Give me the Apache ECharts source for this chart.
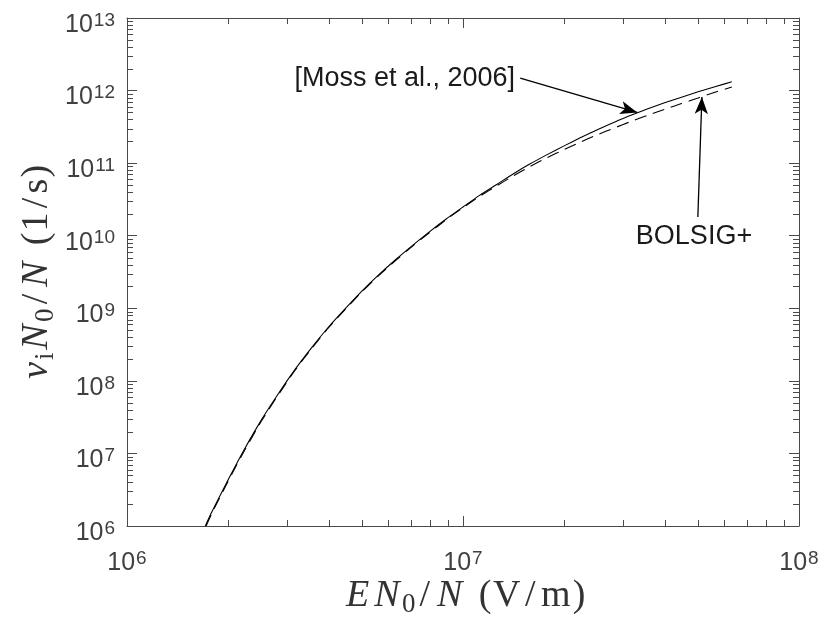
<!DOCTYPE html>
<html><head><meta charset="utf-8">
<script src="https://cdn.jsdelivr.net/npm/echarts@6/dist/echarts.min.js"></script>
<style>html,body{margin:0;padding:0;background:#fff}#c{width:826px;height:623px}</style>
</head><body><div id="c"></div>
<script>
// Reduced electric field EN0/N (V/m) and ionization frequency nu_i N0/N (1/s)
const fieldMoss = [1.71e6, 1.78e6, 2.00e6, 2.24e6, 2.51e6, 2.82e6, 3.16e6, 3.55e6, 3.98e6, 4.47e6, 5.01e6, 5.62e6, 6.31e6, 7.08e6, 7.94e6, 8.91e6,
  1.00e7, 1.12e7, 1.26e7, 1.41e7, 1.58e7, 1.78e7, 2.00e7, 2.24e7, 2.51e7, 2.82e7, 3.16e7, 3.55e7, 3.98e7, 4.47e7, 5.01e7, 5.62e7, 6.31e7];
const rateMoss = [1.00e6, 1.50e6, 4.33e6, 1.16e7, 2.88e7, 6.64e7, 1.43e8, 2.90e8, 5.52e8, 9.98e8, 1.74e9, 2.91e9, 4.70e9, 7.36e9, 1.13e10, 1.70e10,
  2.49e10, 3.60e10, 5.09e10, 7.10e10, 9.70e10, 1.31e11, 1.73e11, 2.25e11, 2.89e11, 3.66e11, 4.56e11, 5.60e11, 6.78e11, 8.11e11, 9.62e11, 1.13e12, 1.32e12];
const fieldBolsig = [1.72e6, 1.78e6, 2.00e6, 2.24e6, 2.51e6, 2.82e6, 3.16e6, 3.55e6, 3.98e6, 4.47e6, 5.01e6, 5.62e6, 6.31e6, 7.08e6, 7.94e6, 8.91e6,
  1.00e7, 1.12e7, 1.26e7, 1.41e7, 1.58e7, 1.78e7, 2.00e7, 2.24e7, 2.51e7, 2.82e7, 3.16e7, 3.55e7, 3.98e7, 4.47e7, 5.01e7, 5.62e7, 6.31e7];
const rateBolsig = [1.00e6, 1.43e6, 4.15e6, 1.11e7, 2.77e7, 6.41e7, 1.39e8, 2.82e8, 5.40e8, 9.75e8, 1.70e9, 2.84e9, 4.59e9, 7.19e9, 1.10e10, 1.66e10,
  2.44e10, 3.48e10, 4.86e10, 6.67e10, 8.95e10, 1.19e11, 1.54e11, 1.96e11, 2.46e11, 3.05e11, 3.75e11, 4.57e11, 5.51e11, 6.62e11, 7.91e11, 9.48e11, 1.12e12];

const xRange = [1e6, 1e8];
const yRange = [1e6, 1e13];
const minorMultipliers = [2, 3, 4, 5, 6, 7, 8, 9];
const xDecades = [1e6, 1e7];
const yDecades = [1e6, 1e7, 1e8, 1e9, 1e10, 1e11, 1e12];

// annotation arrows (data coordinates): [tail, head]
const arrowMoss   = [[1.48e7, 1.49e12], [3.30e7, 5.0e11]];
const arrowBolsig = [[5.0e7, 1.81e10], [5.14e7, 8.15e11]];
const labelMoss = '[Moss et al., 2006]';
const labelBolsig = 'BOLSIG+';

const xMinor = [];
xDecades.forEach(d => minorMultipliers.forEach(m => xMinor.push([m * d, yRange[0]])));
const yMinor = [];
yDecades.forEach(d => minorMultipliers.forEach(m => yMinor.push([xRange[0], m * d])));

const axisColor = '#4a4a4a';
const labelColor = '#404040';
const supRich = {
  b: { fontSize: 25, fontFamily: 'Liberation Sans', color: labelColor, lineHeight: 28 },
  s: { fontSize: 19, fontFamily: 'Liberation Sans', color: labelColor, lineHeight: 10, verticalAlign: 'top', padding: [0, 0, 0, 1] }
};
const powFmt = v => '{b|10}{s|' + Math.round(Math.log10(v)) + '}';

// math-title rich styles (widths mimic Computer Modern advances)
const TF = 'Liberation Serif', TC = '#333';
function tok(w, italic, size) {
  return { fontSize: size || 38, fontFamily: TF, fontStyle: italic ? 'italic' : 'normal', fill: TC, color: TC,
    width: w, align: 'center', lineHeight: size ? 26 : 44, verticalAlign: size ? 'bottom' : 'middle' };
}
const mathRich = {
  E: tok(28, true), N: tok(30.5, true), nu: tok(20, true),
  z: tok(13.3, false, 27), i: tok(8, false, 27),
  sl: tok(19, false), sp: tok(12.7, false), p: tok(14.8, false),
  V: tok(28.5, false), m: tok(31.7, false), one: tok(19, false), s: tok(15, false)
};

function baseAxis(extra) {
  return Object.assign({
    type: 'log', logBase: 10,
    axisLine: { show: true, lineStyle: { color: axisColor, width: 1 } },
    axisTick: { show: true, inside: true, length: 10, lineStyle: { color: axisColor, width: 1 } },
    splitLine: { show: false },
    minorTick: { show: false }
  }, extra);
}

const zip = (a, b) => a.map((v, i) => [v, b[i]]);

function tickItem(p, dx, dy) {
  const x = Math.round(p[0]) + (dx === 0 ? 0.5 : 0);
  const y = Math.round(p[1]) + (dy === 0 ? 0.5 : 0);
  return { type: 'line', shape: { x1: x, y1: y, x2: x + dx, y2: y + dy }, style: { stroke: axisColor, lineWidth: 1 } };
}

const chart = echarts.init(document.getElementById('c'), null, { renderer: 'canvas' });
chart.setOption({
  animation: false,
  backgroundColor: '#fff',
  grid: { left: 127, right: 27, top: 18, bottom: 97 },
  xAxis: [
    baseAxis({ min: xRange[0], max: xRange[1], position: 'bottom',
      axisLabel: { formatter: powFmt, rich: supRich, margin: 23 } }),
    baseAxis({ min: xRange[0], max: xRange[1], position: 'top', axisLabel: { show: false } })
  ],
  yAxis: [
    baseAxis({ min: yRange[0], max: yRange[1], position: 'left',
      axisLabel: { formatter: powFmt, rich: supRich, margin: 12, padding: [14, 0, 0, 0] } }),
    baseAxis({ min: yRange[0], max: yRange[1], position: 'right', axisLabel: { show: false } })
  ],
  graphic: [
    { type: 'text', x: 515, y: 79, z: 100,
      style: { text: labelMoss, font: '27px "Liberation Sans"', fill: '#1a1a1a', align: 'right', verticalAlign: 'middle', textAlign: 'right', textVerticalAlign: 'middle' } },
    { type: 'text', x: 694, y: 237, z: 100,
      style: { text: labelBolsig, font: '27px "Liberation Sans"', fill: '#1a1a1a', align: 'center', verticalAlign: 'middle', textAlign: 'center', textVerticalAlign: 'middle' } },
    { type: 'text', x: 465, y: 596, z: 100,
      style: {
        text: '{E|E}{N|N}{z|0}{sl|/}{N|N}{sp| }{p|(}{V|V}{sl|/}{m|m}{p|)}',
        align: 'center', verticalAlign: 'middle', textAlign: 'center', textVerticalAlign: 'middle',
        rich: mathRich
      } },
    { type: 'text', x: 37, y: 272, rotation: Math.PI / 2, z: 100,
      style: {
        text: '{nu|ν}{i|i}{N|N}{z|0}{sl|/}{N|N}{sp| }{p|(}{one|1}{sl|/}{s|s}{p|)}',
        align: 'center', verticalAlign: 'middle', textAlign: 'center', textVerticalAlign: 'middle',
        rich: mathRich
      } }
  ],
  series: [
    {
      name: 'Moss', type: 'line', xAxisIndex: 0, yAxisIndex: 0,
      data: zip(fieldMoss, rateMoss), showSymbol: false, smooth: 0.2,
      lineStyle: { color: '#000', width: 1.1 }, z: 5,
      markLine: {
        silent: true, animation: false, symbol: ['none', 'arrow'], symbolSize: [10, 17],
        label: { show: false },
        lineStyle: { color: '#000', width: 1.3, type: 'solid' },
        data: [
          [{ coord: arrowMoss[0] }, { coord: arrowMoss[1] }],
          [{ coord: arrowBolsig[0] }, { coord: arrowBolsig[1] }]
        ]
      }
    },
    {
      name: 'BOLSIG+', type: 'line', xAxisIndex: 0, yAxisIndex: 0,
      data: zip(fieldBolsig, rateBolsig), showSymbol: false, smooth: 0.2,
      lineStyle: { color: '#000', width: 1.1, type: [12, 7] }, z: 5
    },
    {
      type: 'custom', xAxisIndex: 0, yAxisIndex: 0, data: xMinor, silent: true, clip: false, z: 10,
      renderItem: (params, api) => {
        const v = api.value(0);
        const b = api.coord([v, yRange[0]]);
        const t = api.coord([v, yRange[1]]);
        return { type: 'group', children: [tickItem(b, 0, -6), tickItem(t, 0, 6)] };
      }
    },
    {
      type: 'custom', xAxisIndex: 0, yAxisIndex: 0, data: yMinor, silent: true, clip: false, z: 10,
      renderItem: (params, api) => {
        const v = api.value(1);
        const l = api.coord([xRange[0], v]);
        const r = api.coord([xRange[1], v]);
        return { type: 'group', children: [tickItem(l, 6, 0), tickItem(r, -6, 0)] };
      }
    }
  ]
});
</script></body></html>
